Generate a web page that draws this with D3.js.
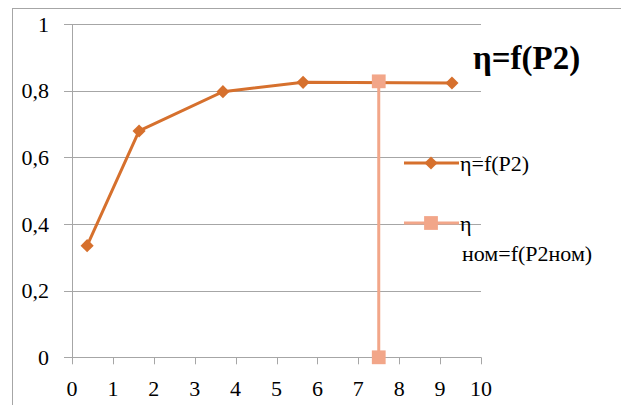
<!DOCTYPE html>
<html>
<head>
<meta charset="utf-8">
<script src="https://cdn.jsdelivr.net/npm/d3@7"></script>
<style>
  body { margin: 0; background: #fff; }
  svg { display: block; }
</style>
</head>
<body>
<svg id="chart"></svg>
<script>
// svg size
const width = 621;
const height = 405;

// data
const p2 = [0.37, 1.64, 3.69, 5.65, 9.29];
const eta = [0.335, 0.679, 0.797, 0.825, 0.823];
const p2Nom = [7.5, 7.5];
const etaNom = [0.828, 0];
const xTicks = [0, 1, 2, 3, 4, 5, 6, 7, 8, 9, 10];
const yTicks = [0, 0.2, 0.4, 0.6, 0.8, 1];
const seriesNames = ["η=f(P2)", "η", "ном=f(P2ном)"];
const title = "η=f(P2)";

const orange = "#d6702d";
const salmon = "#f2a689";
const grid = "#a6a6a6";
const serif = "\"Liberation Serif\", \"DejaVu Serif\", serif";

const svg = d3.select("#chart")
    .attr("width", width)
    .attr("height", height);

// outer chart border (only left and top visible)
svg.append("rect")
    .attr("x", 12.5)
    .attr("y", 8.5)
    .attr("width", 700)
    .attr("height", 500)
    .attr("fill", "none")
    .attr("stroke", grid)
    .attr("stroke-width", 1);

const x = d3.scaleLinear().domain([0, 10]).range([72, 481]);
const y = d3.scaleLinear().domain([0, 1]).range([357.3, 24]);

// horizontal gridlines + y ticks
svg.selectAll("line.grid")
    .data(yTicks)
    .enter()
    .append("line")
    .attr("class", "grid")
    .attr("x1", 64)
    .attr("x2", x(10))
    .attr("y1", d => Math.round(y(d)) + 0.5)
    .attr("y2", d => Math.round(y(d)) + 0.5)
    .attr("stroke", grid)
    .attr("stroke-width", 1);

// y axis line
svg.append("line")
    .attr("x1", x(0) + 0.5)
    .attr("x2", x(0) + 0.5)
    .attr("y1", y(1))
    .attr("y2", y(0))
    .attr("stroke", grid);

// x ticks
svg.selectAll("line.xtick")
    .data(xTicks)
    .enter()
    .append("line")
    .attr("class", "xtick")
    .attr("x1", d => Math.round(x(d)) + 0.5)
    .attr("x2", d => Math.round(x(d)) + 0.5)
    .attr("y1", y(0))
    .attr("y2", y(0) + 7)
    .attr("stroke", grid);

// y labels
svg.selectAll("text.ylabel")
    .data(yTicks)
    .enter()
    .append("text")
    .attr("class", "ylabel")
    .attr("x", 49)
    .attr("y", d => y(d))
    .attr("dy", "0.35em")
    .attr("text-anchor", "end")
    .attr("font-size", 22)
    .text(d => String(d).replace(".", ","));

// x labels
svg.selectAll("text.xlabel")
    .data(xTicks)
    .enter()
    .append("text")
    .attr("class", "xlabel")
    .attr("x", d => x(d))
    .attr("y", 396)
    .attr("text-anchor", "middle")
    .attr("font-size", 22)
    .text(d => d);

const line = d3.line()
    .x(d => x(d[0]))
    .y(d => y(d[1]));

const diamond = d3.symbol().type(d3.symbolDiamond2).size(110);
const square = d3.symbol().type(d3.symbolSquare).size(190);

// η ном series
const nomData = d3.zip(p2Nom, etaNom);
svg.append("path")
    .datum(nomData)
    .attr("d", line)
    .attr("fill", "none")
    .attr("stroke", salmon)
    .attr("stroke-width", 3);

// η series
const etaData = d3.zip(p2, eta);
svg.append("path")
    .datum(etaData)
    .attr("d", line)
    .attr("fill", "none")
    .attr("stroke", orange)
    .attr("stroke-width", 3);

svg.selectAll("path.dmark")
    .data(etaData)
    .enter()
    .append("path")
    .attr("class", "dmark")
    .attr("d", diamond)
    .attr("transform", d => `translate(${x(d[0])},${y(d[1])})`)
    .attr("fill", orange);

svg.selectAll("path.smark")
    .data(nomData)
    .enter()
    .append("path")
    .attr("class", "smark")
    .attr("d", square)
    .attr("transform", d => `translate(${x(d[0])},${y(d[1])})`)
    .attr("fill", salmon);

// title
svg.append("text")
    .attr("x", 473)
    .attr("y", 69)
    .attr("font-weight", "bold")
    .attr("font-size", 33)
    .text(title);

// legend
const leg = svg.append("g");
leg.append("line")
    .attr("x1", 404).attr("x2", 459)
    .attr("y1", 163).attr("y2", 163)
    .attr("stroke", orange).attr("stroke-width", 3);
leg.append("path")
    .attr("d", diamond)
    .attr("transform", "translate(431,163)")
    .attr("fill", orange);
leg.append("text")
    .attr("x", 460).attr("y", 163).attr("dy", "0.35em")
    .attr("font-size", 22)
    .text(seriesNames[0]);

leg.append("line")
    .attr("x1", 404).attr("x2", 459)
    .attr("y1", 223).attr("y2", 223)
    .attr("stroke", salmon).attr("stroke-width", 3);
leg.append("path")
    .attr("d", square)
    .attr("transform", "translate(431,223)")
    .attr("fill", salmon);
leg.append("text")
    .attr("x", 460).attr("y", 223).attr("dy", "0.35em")
    .attr("font-size", 22)
    .text(seriesNames[1]);
leg.append("text")
    .attr("x", 462).attr("y", 253).attr("dy", "0.35em")
    .attr("font-size", 22)
    .text(seriesNames[2]);

// serif font on every text, set last so nothing overrides it
svg.selectAll("text")
    .attr("font-family", serif)
    .style("font-family", serif, "important");
</script>
</body>
</html>
